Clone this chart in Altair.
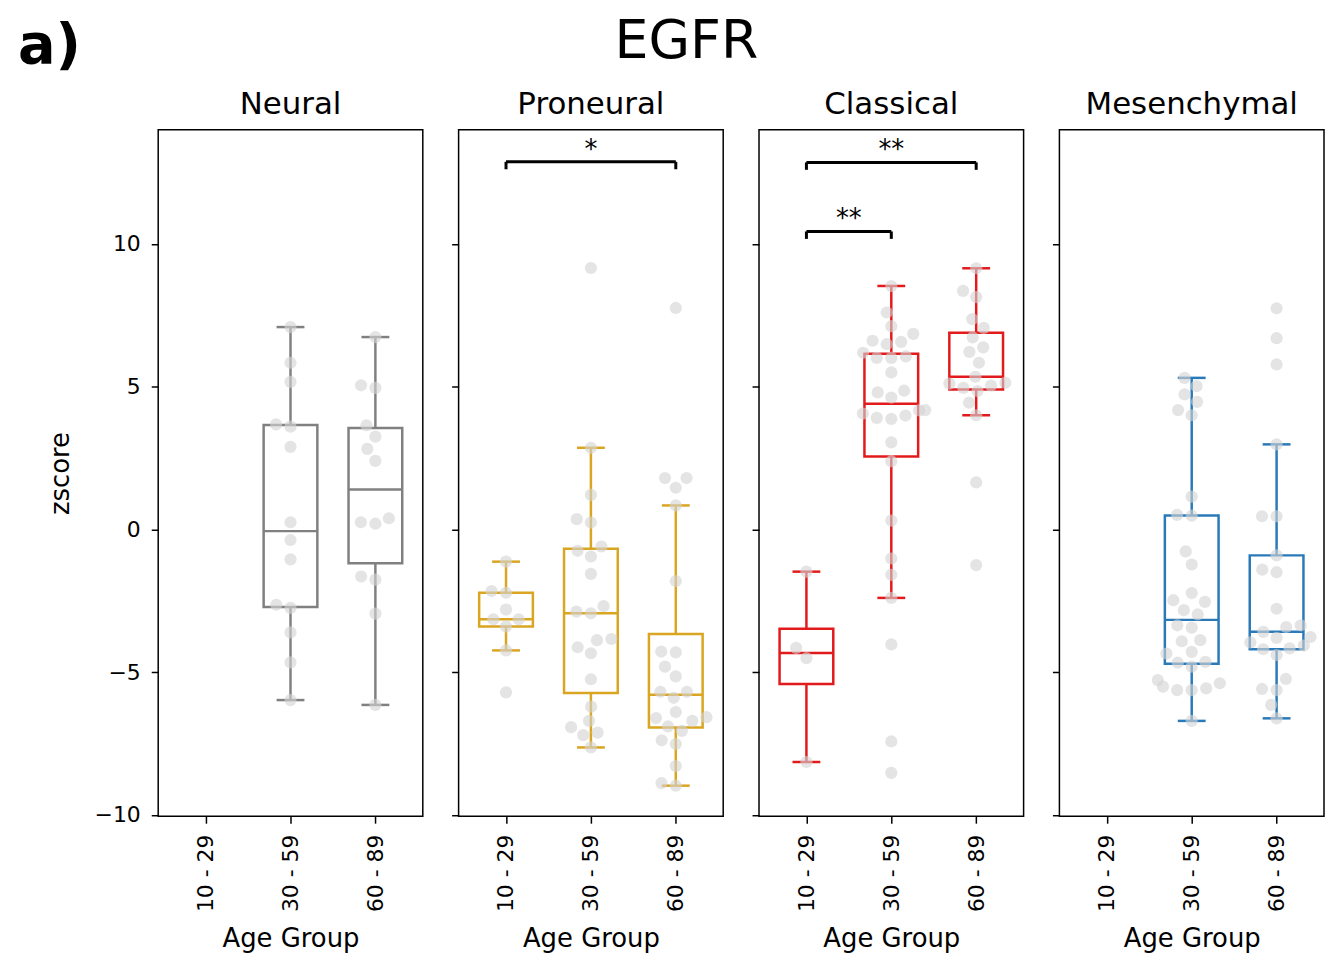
import json
import numpy as np
import pandas as pd
import altair as alt

# ---------------- data ----------------
suptitle = "EGFR"
panel_label = "a)"
subtypes = ["Neural", "Proneural", "Classical", "Mesenchymal"]
age_groups = ["10 - 29", "30 - 59", "60 - 89"]
box_colors = ["#808080", "#DAA520", "#E31A1C", "#2A7AB9"]

neural_10_29 = []
neural_30_59 = [7.09, 5.84, 5.17, 3.68, 3.60, 2.89, 0.25, -0.37, -1.05, -2.64, -2.75, -3.61, -4.66, -5.98]
neural_60_89 = [6.74, 5.05, 4.96, 3.65, 3.25, 2.82, 2.40, 0.39, 0.25, 0.20, -1.65, -1.76, -2.95, -6.15]

proneural_10_29 = [-1.13, -2.16, -2.22, -2.81, -3.15, -3.15, -3.40, -4.24, -5.71]
proneural_30_59 = [9.16, 2.86, 1.21, 0.36, 0.24, -0.60, -0.75, -0.95, -1.56, -2.69, -2.88, -2.94,
                   -3.84, -3.88, -4.13, -4.34, -5.25, -6.21, -6.71, -6.93, -7.12, -7.21, -7.64]
proneural_60_89 = [7.76, 1.80, 1.80, 1.46, 0.84, -1.81, -4.28, -4.31, -4.81, -5.15, -5.69, -5.69,
                   -5.90, -6.40, -6.58, -6.61, -6.71, -6.90, -7.06, -7.39, -7.52, -8.29, -8.89, -8.98]

classical_10_29 = [-1.48, -4.15, -4.51, -8.15]
classical_30_59 = [8.53, 7.60, 7.12, 6.85, 6.61, 6.57, 6.49, 6.19, 6.06, 6.01, 6.01, 5.50, 4.86, 4.80,
                   4.62, 4.18, 4.17, 4.06, 3.99, 3.91, 3.87, 3.05, 2.39, 0.31, -1.02, -1.59, -2.40,
                   -4.03, -7.43, -8.53]
classical_60_89 = [9.15, 8.36, 8.14, 7.37, 7.06, 6.73, 6.38, 6.22, 5.84, 5.35, 5.14, 5.11, 5.04, 4.96,
                   4.85, 4.44, 4.00, 1.65, -1.25]

mesenchymal_10_29 = []
mesenchymal_30_59 = [5.31, 5.02, 4.73, 4.47, 4.18, 4.00, 1.15, 0.51, 0.48, -0.77, -1.23, -2.23, -2.48,
                     -2.54, -2.83, -2.98, -3.36, -3.44, -3.88, -3.92, -4.29, -4.35, -4.64, -4.67,
                     -4.81, -5.28, -5.51, -5.63, -5.63, -5.57, -5.39, -6.71]
mesenchymal_60_89 = [7.75, 6.70, 5.78, 2.98, 0.46, 0.46, -0.91, -1.41, -1.50, -2.78, -3.36, -3.42,
                     -3.59, -3.77, -3.80, -3.96, -4.07, -4.17, -4.20, -4.40, -5.24, -5.59, -5.63,
                     -6.15, -6.62]

groups = {
    "Neural": [neural_10_29, neural_30_59, neural_60_89],
    "Proneural": [proneural_10_29, proneural_30_59, proneural_60_89],
    "Classical": [classical_10_29, classical_30_59, classical_60_89],
    "Mesenchymal": [mesenchymal_10_29, mesenchymal_30_59, mesenchymal_60_89],
}

# significance brackets: subtype, group a, group b, level (zscore), label
bracket_subtype = ["Proneural", "Classical", "Classical"]
bracket_from = [0, 0, 0]
bracket_to = [2, 2, 1]
bracket_level = [12.88, 12.86, 10.44]
bracket_label = ["*", "**", "**"]

# ---------------- layout ----------------
PANEL_W = 266
PANEL_H = 690
Y_MIN, Y_MAX = -10.05, 14.0
PX_PER_Y = PANEL_H / (Y_MAX - Y_MIN)
PX_PER_X = PANEL_W / 3.0
DIAM = 14.5
HALF_W = 0.4 * PX_PER_X
FONT = "DejaVu Sans"


def swarm_offsets(vals):
    """seaborn-like beeswarm in pixel space; returns offsets in x data units"""
    vals = np.asarray(vals, dtype=float)
    ys = vals * PX_PER_Y
    order = np.argsort(ys, kind="stable")
    placed = []
    out = np.zeros(len(vals))
    for i in order:
        y = ys[i]
        nb = [(px, py) for px, py in placed if abs(py - y) < DIAM]
        cands = [0.0]
        lefts, rights = [], []
        for px, py in nb:
            dx = np.sqrt(max(DIAM ** 2 - (py - y) ** 2, 0)) * 1.05
            lefts.append(px - dx)
            rights.append(px + dx)
        cands += lefts + rights
        cands = sorted(cands, key=lambda c: abs(c))
        x = cands[-1]
        for c in cands:
            if all((c - px) ** 2 + (y - py) ** 2 >= DIAM ** 2 - 1e-6 for px, py in nb):
                x = c
                break
        placed.append((x, y))
        out[i] = x
    out = np.clip(out, -HALF_W, HALF_W)
    return out / PX_PER_X


point_rows, stat_rows = [], []
for s in subtypes:
    for gi, vals in enumerate(groups[s]):
        if len(vals) == 0:
            continue
        offs = swarm_offsets(vals)
        for v, o in zip(vals, offs):
            point_rows.append({"subtype": s, "g": gi, "x": gi + o, "value": v})
        a = np.asarray(vals, dtype=float)
        q1, med, q3 = np.percentile(a, [25, 50, 75])
        iqr = q3 - q1
        lo = a[a >= q1 - 1.5 * iqr].min()
        hi = a[a <= q3 + 1.5 * iqr].max()
        stat_rows.append({"subtype": s, "g": gi, "q1": q1, "med": med, "q3": q3, "lo": lo, "hi": hi})

points = pd.DataFrame(point_rows)
stats = pd.DataFrame(stat_rows)
brackets = pd.DataFrame({"subtype": bracket_subtype, "a": bracket_from, "b": bracket_to,
                         "level": bracket_level, "label": bracket_label})
brackets["mid"] = (brackets["a"] + brackets["b"]) / 2.0
brackets["drop"] = brackets["level"] - 0.26

label_expr = json.dumps(age_groups) + "[datum.value]"
xscale = alt.Scale(domain=[-0.5, 2.5], nice=False, zero=False)
yscale = alt.Scale(domain=[Y_MIN, Y_MAX], nice=False, zero=False)


def panel(idx, s):
    color = box_colors[idx]
    first = idx == 0
    xaxis = alt.Axis(values=[0, 1, 2], labelExpr=label_expr, labelAngle=270, title="Age Group",
                     labelPadding=11, titlePadding=14, tickSize=7)
    yaxis = alt.Axis(values=[-10, -5, 0, 5, 10], labels=first, title="zscore" if first else None,
                     tickSize=7, labelPadding=11, titlePadding=21)
    X = lambda f: alt.X(f, type="quantitative", scale=xscale, axis=xaxis)
    Y = lambda f: alt.Y(f, type="quantitative", scale=yscale, axis=yaxis)

    st = alt.Chart(stats[stats.subtype == s])
    pts = alt.Chart(points[points.subtype == s])

    box = st.mark_bar(size=54, fill="white", stroke=color, strokeWidth=2.5).encode(
        x=X("g"), y=Y("q1"), y2="q3")
    wlo = st.mark_rule(color=color, strokeWidth=2.5).encode(x=X("g"), y=Y("lo"), y2="q1")
    whi = st.mark_rule(color=color, strokeWidth=2.5).encode(x=X("g"), y=Y("q3"), y2="hi")
    med = st.mark_tick(orient="horizontal", size=54, thickness=2.5, color=color, opacity=1).encode(
        x=X("g"), y=Y("med"))
    cap_lo = st.mark_tick(orient="horizontal", size=28, thickness=2.5, color=color, opacity=1).encode(
        x=X("g"), y=Y("lo"))
    cap_hi = st.mark_tick(orient="horizontal", size=28, thickness=2.5, color=color, opacity=1).encode(
        x=X("g"), y=Y("hi"))
    dots = pts.mark_circle(size=150, color="#d3d3d3", opacity=0.62).encode(x=X("x"), y=Y("value"))

    ttl = alt.Chart(pd.DataFrame({"t": [s]})).mark_text(
        font=FONT, fontSize=31, align="center", baseline="alphabetic", color="black"
    ).encode(x=alt.value(PANEL_W / 2), y=alt.value(-16), text="t")

    layers = [box, wlo, whi, med, cap_lo, cap_hi, dots, ttl]

    br = brackets[brackets.subtype == s]
    if len(br):
        bc = alt.Chart(br)
        layers += [
            bc.mark_rule(color="black", strokeWidth=3).encode(x=X("a"), x2="b", y=Y("level")),
            bc.mark_rule(color="black", strokeWidth=3).encode(x=X("a"), y=Y("drop"), y2="level"),
            bc.mark_rule(color="black", strokeWidth=3).encode(x=X("b"), y=Y("drop"), y2="level"),
            bc.mark_text(font=FONT, fontSize=26, baseline="alphabetic", dy=-4, color="black").encode(
                x=X("mid"), y=Y("level"), text="label"),
        ]

    if first:
        lab = pd.DataFrame({"t": [panel_label]})
        sup = pd.DataFrame({"t": [suptitle]})
        layers += [
            alt.Chart(lab).mark_text(font=FONT, fontSize=56, fontWeight="bold", align="left",
                                     baseline="alphabetic", color="black").encode(
                x=alt.value(-141), y=alt.value(-67), text="t"),
            alt.Chart(sup).mark_text(font=FONT, fontSize=54, align="center",
                                     baseline="alphabetic", color="black").encode(
                x=alt.value(531), y=alt.value(-72), text="t"),
        ]

    return alt.layer(*layers).properties(width=PANEL_W, height=PANEL_H)


chart = alt.hconcat(*[panel(i, s) for i, s in enumerate(subtypes)], spacing=36, bounds="flush")
chart = chart.properties(padding={"left": 9, "top": 4, "right": 0, "bottom": 0}).configure_view(
    stroke="black", strokeWidth=1.5
).configure_axis(
    labelFont=FONT, titleFont=FONT, labelFontSize=22, titleFontSize=26, labelColor="black",
    titleColor="black", titleFontWeight="normal", tickColor="black", tickWidth=1.5,
    domain=False, grid=False,
)

chart.save("out.html", embed_options={"renderer": "svg", "actions": False})
